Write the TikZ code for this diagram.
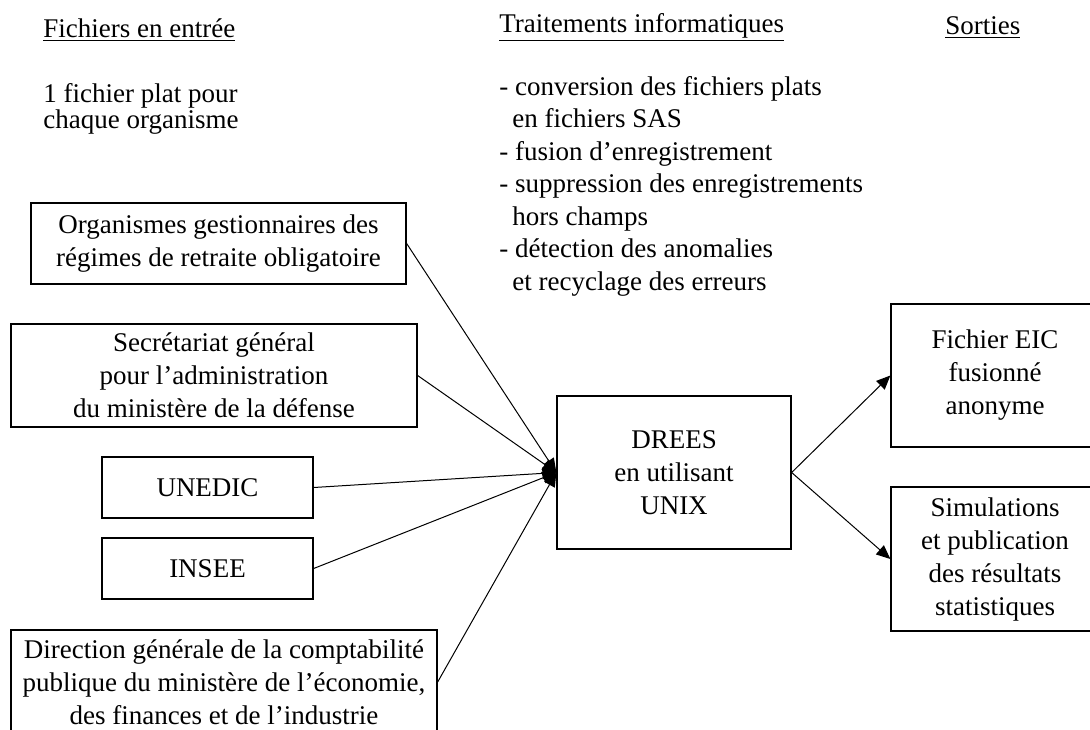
\documentclass[tikz,border=0pt]{standalone}
\usepackage{fontspec}
\setmainfont{Liberation Serif}
\usetikzlibrary{arrows.meta}

\begin{document}
\begin{tikzpicture}[x=0.5pt, y=-0.5pt,
    font=\fontsize{13.5}{16.5}\selectfont,
    boite/.style ={rectangle, draw, line width=0.65pt, align=center, inner sep=0pt},
    texte/.style ={anchor=base west, inner sep=0pt},
    fleche/.style ={line width=0.5pt, -{Triangle[length=7pt, width=6pt]}}]
   \useasboundingbox (0,0) rectangle (1090,729);
   \clip (0,0) rectangle (1090,729);

   % titres des colonnes
   \node[texte] (T1) at (43,37)  {\underline{Fichiers en entrée}};
   \node[texte] (T2) at (499,32) {\underline{Traitements informatiques}};
   \node[texte] (T3) at (945,34) {\underline{Sorties}};

   \node[texte] (P1) at (43,102) {1 fichier plat pour};
   \node[texte] (P2) at (43,128) {chaque organisme};

   \foreach \ligne [count=\i from 0] in {- conversion des fichiers plats,
       \hspace*{6.5pt}en fichiers SAS, - fusion d’enregistrement,
       - suppression des enregistrements, \hspace*{6.5pt}hors champs,
       - détection des anomalies, \hspace*{6.5pt}et recyclage des erreurs}
     \node[texte] (L\i) at (499,95+32.5*\i) {\ligne};

   % fichiers en entree
   \node[boite, minimum width=187.5pt, minimum height=40.5pt] (A) at (218.5,243.5)
     {Organismes gestionnaires des\\régimes de retraite obligatoire};
   \node[boite, minimum width=203pt, minimum height=51.5pt] (B) at (214,375.5)
     {Secrétariat général\\pour l’administration\\du ministère de la défense};
   \node[boite, minimum width=105.5pt, minimum height=30.5pt] (C) at (207.5,487.5) {UNEDIC};
   \node[boite, minimum width=105.5pt, minimum height=30.5pt] (E) at (207.5,568.5) {INSEE};
   \node[boite, minimum width=213pt, minimum height=52pt] (F) at (224,682)
     {Direction générale de la comptabilité\\publique du ministère de l’économie,\\des finances et de l’industrie};

   % traitement
   \node[boite, minimum width=117pt, minimum height=76.5pt] (D) at (674,472.5)
     {DREES\\en utilisant\\UNIX};

   % sorties
   \node[boite, minimum width=104pt, minimum height=71.5pt] (G) at (995,375.5)
     {Fichier EIC\\fusionné\\anonyme};
   \node[boite, minimum width=104pt, minimum height=72pt] (H) at (995,559)
     {Simulations\\et publication\\des résultats\\statistiques};

   \draw[fleche] (A.east) to (D.west);
   \draw[fleche] (B.east) to (D.west);
   \draw[fleche] (C.east) to (D.west);
   \draw[fleche] (E.east) to (D.west);
   \draw[fleche] (F.east) to (D.west);

   \draw[fleche] (D.east) to (G.west);
   \draw[fleche] (D.east) to (H.west);
 \end{tikzpicture}
\end{document}
